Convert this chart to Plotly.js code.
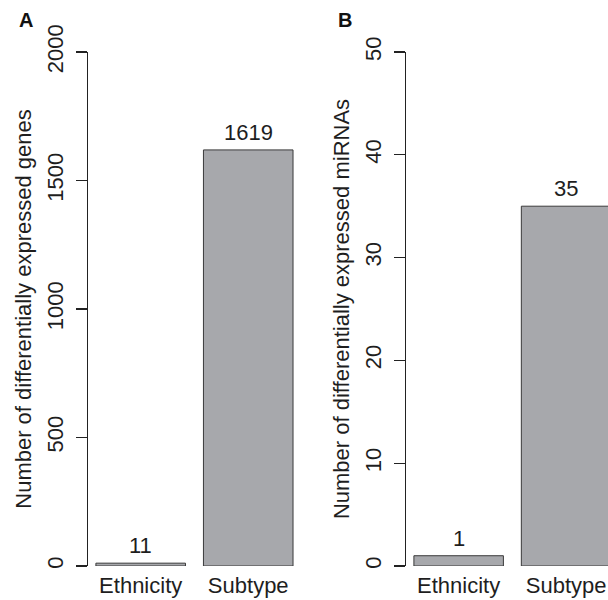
<!DOCTYPE html>
<html>
<head>
<meta charset="utf-8">
<script src="https://cdn.plot.ly/plotly-3.0.1.min.js"></script>
<style>html,body{margin:0;padding:0;background:#fff;overflow:hidden;}#chart{width:608px;height:600px;}</style>
</head>
<body>
<div id="chart"></div>
<script>
const categories = ['Ethnicity', 'Subtype'];
const genesCounts = [11, 1619];
const mirnaCounts = [1, 35];
const genesTicks = [0, 500, 1000, 1500, 2000];
const mirnaTicks = [0, 10, 20, 30, 40, 50];
const panelLabels = ['A', 'B'];
const yTitles = ['Number of differentially expressed genes', 'Number of differentially expressed miRNAs'];

const FONT = 'Liberation Sans, Arial, Helvetica, sans-serif';
const TXT = '#1e1e1e';
const BAR_FILL = '#a7a8ac';
const BAR_LINE = '#3a3a3a';

const W = 608, H = 600;
const yBottom = (H - 566) / H, yTop = (H - 52) / H;

function barTrace(vals, xa, ya) {
  return {
    type: 'bar', x: categories, y: vals, xaxis: xa, yaxis: ya,
    marker: {color: BAR_FILL, line: {color: BAR_LINE, width: 1}},
    hoverinfo: 'none', showlegend: false
  };
}

function yAxis(ticks, title, anchor) {
  return {
    domain: [yBottom, yTop], anchor: anchor,
    range: [ticks[0], ticks[ticks.length - 1]],
    tickmode: 'array', tickvals: ticks, ticktext: ticks.map(String),
    tickangle: -90, ticks: 'outside', ticklen: 11, tickwidth: 1.3, tickcolor: '#222',
    showline: true, linecolor: '#222', linewidth: 1.3,
    showgrid: false, zeroline: false,
    tickfont: {family: FONT, size: 22, color: TXT},
    ticklabelstandoff: 4,
    title: {text: title, font: {family: FONT, size: 22, color: TXT}, standoff: 5},
    automargin: false
  };
}

function xAxis(domain, range, anchor) {
  return {
    domain: domain, anchor: anchor, range: range, type: 'category',
    showline: false, ticks: '', showgrid: false, zeroline: false,
    tickfont: {family: FONT, size: 22, color: TXT},
    ticklabelstandoff: 4, automargin: false, fixedrange: true
  };
}

const annotations = [];
function valueLabels(vals, xa, ya) {
  vals.forEach((v, i) => annotations.push({
    xref: xa, yref: ya, x: categories[i], y: v, text: String(v),
    showarrow: false, yanchor: 'bottom', yshift: 3,
    font: {family: FONT, size: 22, color: TXT}
  }));
}
valueLabels(genesCounts, 'x', 'y');
valueLabels(mirnaCounts, 'x2', 'y2');

annotations.push({xref: 'paper', yref: 'paper', x: 26 / W, y: 1 - 20 / H, text: '<b>' + panelLabels[0] + '</b>',
  showarrow: false, xanchor: 'center', yanchor: 'middle', font: {family: FONT, size: 20, color: '#111'}});
annotations.push({xref: 'paper', yref: 'paper', x: 345 / W, y: 1 - 20 / H, text: '<b>' + panelLabels[1] + '</b>',
  showarrow: false, xanchor: 'center', yanchor: 'middle', font: {family: FONT, size: 20, color: '#111'}});

const data = [barTrace(genesCounts, 'x', 'y'), barTrace(mirnaCounts, 'x2', 'y2')];

const layout = {
  width: W, height: H,
  margin: {l: 0, r: 0, t: 0, b: 0},
  paper_bgcolor: '#fff', plot_bgcolor: '#fff',
  bargap: 0.167,
  showlegend: false,
  xaxis: xAxis([88 / W, 302 / W], [-0.49, 1.5], 'y'),
  yaxis: yAxis(genesTicks, yTitles[0], 'x'),
  xaxis2: xAxis([406 / W, 1], [-0.49, 1.39], 'y2'),
  yaxis2: yAxis(mirnaTicks, yTitles[1], 'x2'),
  annotations: annotations
};

Plotly.newPlot('chart', data, layout, {displayModeBar: false, staticPlot: true});
</script>
</body>
</html>
